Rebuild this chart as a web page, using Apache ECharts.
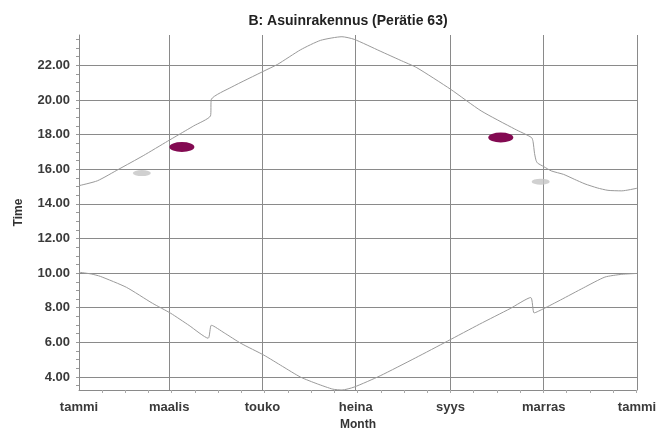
<!DOCTYPE html>
<html>
<head>
<meta charset="utf-8">
<script src="https://cdn.jsdelivr.net/npm/echarts@6/dist/echarts.min.js"></script>
<style>
  html, body { margin: 0; padding: 0; background: #fff; }
  #chart { width: 672px; height: 429px; }
</style>
</head>
<body>
<div id="chart"></div>
<script>
// Month boundaries (day of year) and their labels
const monthDays = [0, 59, 120, 181, 243, 304, 365];
const monthLabels = ['tammi', 'maalis', 'touko', 'heina', 'syys', 'marras', 'tammi'];

// Hour ticks on the time axis
const hourTicks = [4, 6, 8, 10, 12, 14, 16, 18, 20, 22];

// Sunset time through the year (day of year, hour), with DST steps
const sunsetDays  = [0, 12, 26, 42, 58, 64, 75, 86, 86.6, 100, 121, 130, 145, 158, 172, 180, 197, 210, 221, 243, 263, 285, 296, 297, 298, 299, 300, 304, 309, 317, 324, 331, 339, 346, 355, 365];
const sunsetHours = [15.05, 15.33, 16.0, 16.78, 17.62, 17.93, 18.5, 19.08, 20.04, 20.75, 21.67, 22.06, 22.9, 23.44, 23.65, 23.5, 22.82, 22.3, 21.86, 20.62, 19.37, 18.32, 17.83, 17.6, 16.9, 16.5, 16.35, 16.15, 15.9, 15.7, 15.42, 15.15, 14.92, 14.78, 14.75, 14.9];

// Sunrise time through the year (day of year, hour), with DST steps
const sunriseDays  = [0, 8, 14, 31, 48, 60, 72, 84.5, 86.6, 95, 106, 121, 133, 145, 156, 166, 172, 180, 197, 220, 241, 262, 282, 295.5, 297.7, 304, 315, 330, 344, 355, 365];
const sunriseHours = [10.05, 9.95, 9.81, 9.18, 8.26, 7.68, 6.98, 6.24, 6.99, 6.55, 5.94, 5.26, 4.62, 3.99, 3.6, 3.3, 3.25, 3.42, 4.07, 5.1, 6.07, 7.05, 7.95, 8.59, 7.7, 7.95, 8.45, 9.15, 9.77, 9.93, 9.98];

// Highlighted observations
const markDays  = [67.3, 275.9];
const markHours = [17.28, 17.83];
const faintDays  = [41.1, 302];
const faintHours = [15.78, 15.28];

const pairs = (xs, ys) => xs.map((x, i) => [x, ys[i]]);

// Short ticks every half hour and every half month
const halfHours = [];
for (let h = 3.5; h <= 23.5; h += 0.5) halfHours.push(h);
const halfMonths = [];
for (let d = 15; d < 365; d += 15.2) halfMonths.push(d);

const gridColor = '#8a8a8a';
const lineColor = '#9a9a9a';
const font = "'Liberation Sans', Arial, sans-serif";

const chart = echarts.init(document.getElementById('chart'), null, { renderer: 'canvas' });
chart.setOption({
  animation: false,
  backgroundColor: '#fff',
  title: {
    text: 'B: Asuinrakennus (Perätie 63)',
    left: 343, top: 9, textAlign: 'center',
    textStyle: { fontFamily: font, fontSize: 14, fontWeight: 'bold', color: '#222' }
  },
  grid: { left: 79, right: 35, top: 35, bottom: 39, containLabel: false, outerBoundsMode: 'none' },
  xAxis: [{
    type: 'value', min: 0, max: 365,
    name: 'Month', nameLocation: 'middle', nameGap: 19,
    nameTextStyle: { fontFamily: font, fontSize: 12, fontWeight: 'bold', color: '#333' },
    axisLine: { show: true, lineStyle: { color: gridColor } },
    axisTick: { show: false, customValues: monthDays },
    axisLabel: {
      customValues: monthDays, margin: 11,
      formatter: v => monthLabels[monthDays.indexOf(v)] || '',
      fontFamily: font, fontSize: 13, fontWeight: 'bold', color: '#3a3a3a'
    },
    splitLine: { show: true, lineStyle: { color: gridColor, width: 1 } }
  }, {
    type: 'value', min: 0, max: 365, position: 'bottom',
    axisLine: { show: false },
    axisTick: { show: true, customValues: halfMonths, length: 3, lineStyle: { color: '#aaa' } },
    axisLabel: { show: false },
    splitLine: { show: false }
  }],
  yAxis: [{
    type: 'value', min: 3.25, max: 23.75,
    name: 'Time', nameLocation: 'middle', nameGap: 54,
    nameTextStyle: { fontFamily: font, fontSize: 12, fontWeight: 'bold', color: '#333' },
    axisLine: { show: true, lineStyle: { color: gridColor } },
    axisTick: { show: false, customValues: hourTicks },
    axisLabel: {
      customValues: hourTicks, margin: 9,
      formatter: v => v.toFixed(2),
      fontFamily: font, fontSize: 13, fontWeight: 'bold', color: '#3a3a3a'
    },
    splitLine: { show: true, lineStyle: { color: gridColor, width: 1 } }
  }, {
    type: 'value', min: 3.25, max: 23.75, position: 'left',
    axisLine: { show: false },
    axisTick: { show: true, customValues: halfHours, length: 3, lineStyle: { color: '#999' } },
    axisLabel: { show: false },
    splitLine: { show: false }
  }],
  series: [{
    name: 'sunset', type: 'line', data: pairs(sunsetDays, sunsetHours),
    showSymbol: false, smooth: 0.2, lineStyle: { color: lineColor, width: 1 }
  }, {
    name: 'sunrise', type: 'line', data: pairs(sunriseDays, sunriseHours),
    showSymbol: false, smooth: 0.2, lineStyle: { color: lineColor, width: 1 }
  }, {
    name: 'marked', type: 'scatter', data: pairs(markDays, markHours),
    symbol: 'circle', symbolSize: [25, 10],
    itemStyle: { color: '#830a52', opacity: 1 }
  }, {
    name: 'faint', type: 'scatter', data: pairs(faintDays, faintHours),
    symbol: 'circle', symbolSize: [18, 6],
    itemStyle: { color: '#c4c4c4' }
  }]
});
</script>
</body>
</html>
